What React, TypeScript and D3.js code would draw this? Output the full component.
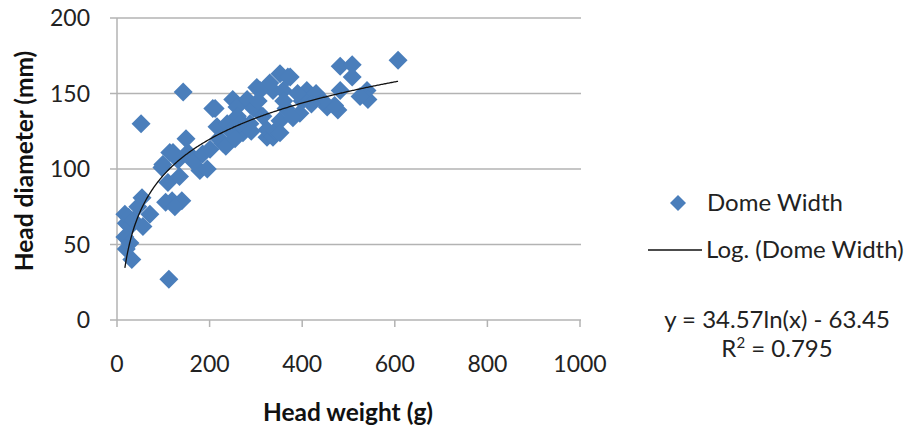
import React from "react";
import * as d3 from "d3";

const headWeight: number[] = [
  17, 20, 25, 28, 17, 28, 20, 32, 35, 54, 71, 56, 45, 52,
  97, 110, 119, 140, 112, 132, 114, 153, 179, 143, 149, 121, 99, 105, 125, 135, 165, 185, 195,
  207, 212, 201, 216, 229, 238, 250, 259, 272, 272, 281, 287, 302, 309, 324, 324, 337, 337, 341, 330,
  220, 245, 260, 265, 295, 315, 235, 255, 290, 305,
  352, 352, 369, 374, 359, 352, 410, 423, 395, 380, 482, 508, 508, 482, 454, 477, 540, 542, 525, 607,
  400, 390, 430, 365, 470, 445, 420, 360,
];
const domeWidth: number[] = [
  70, 64, 68, 62, 55, 51, 47, 40, 66, 81, 70, 62, 75, 130,
  101, 91, 79, 79, 27, 106, 111, 111, 99, 151, 120, 111, 103, 78, 75, 95, 105, 110, 100,
  140, 140, 113, 128, 117, 130, 146, 141, 130, 124, 146, 130, 154, 152, 121, 126, 121, 152, 125, 157,
  120, 125, 135, 130, 140, 135, 115, 120, 125, 145,
  163, 132, 161, 161, 152, 124, 152, 148, 137, 134, 168, 169, 161, 152, 141, 139, 152, 146, 148, 172,
  145, 150, 150, 140, 142, 145, 143, 145,
];
const xTicks: number[] = [0, 200, 400, 600, 800, 1000];
const yTicks: number[] = [0, 50, 100, 150, 200];
const trendA = 34.57;
const trendB = -63.45;
const trendRange: number[] = [17, 607];

const FONT = "Lato, 'Open Sans', sans-serif";
const BLUE = "#4a7ebb";
const GRID = "#b3b3b3";

export default function App() {
  const W = 911, H = 429;
  const x = d3.scaleLinear().domain([0, 1000]).range([117, 580]);
  const y = d3.scaleLinear().domain([0, 200]).range([320, 18]);
  const pts = headWeight.map((w, i) => ({ w, d: domeWidth[i] }));
  const trendPts = d3.range(trendRange[0], trendRange[1] + 0.5, 2).map((v) => [v, trendA * Math.log(v) + trendB]);
  const line = d3.line<number[]>().x((p) => x(p[0])).y((p) => y(p[1])).curve(d3.curveLinear);
  const diamond = (cx: number, cy: number, r: number) =>
    `M${cx},${cy - r}L${cx + r},${cy}L${cx},${cy + r}L${cx - r},${cy}Z`;
  const xEnd = 581;
  return (
    <svg width={W} height={H} style={{ position: "absolute", left: 0, top: 0, background: "#fff" }} fontFamily={FONT}>
      <rect x={0} y={0} width={W} height={H} fill="#fff" />
      {yTicks.map((t) => (
        <g key={"y" + t}>
          {t > 0 && <line x1={x(0)} x2={xEnd} y1={y(t)} y2={y(t)} stroke={GRID} strokeWidth={1.5} />}
          <line x1={x(0) - 7} x2={x(0)} y1={y(t)} y2={y(t)} stroke={GRID} strokeWidth={1.5} />
          <text x={90} y={y(t)} dy="0.36em" textAnchor="end" fontSize={23} fill="#222">{t}</text>
        </g>
      ))}
      <line x1={x(0)} x2={x(0)} y1={y(200)} y2={y(0)} stroke={GRID} strokeWidth={1.5} />
      <line x1={x(0)} x2={xEnd} y1={y(0)} y2={y(0)} stroke={GRID} strokeWidth={1.5} />
      {xTicks.map((t) => (
        <g key={"x" + t}>
          <line x1={x(t)} x2={x(t)} y1={y(0)} y2={y(0) + 7} stroke={GRID} strokeWidth={1.5} />
          <text x={x(t)} y={372} textAnchor="middle" fontSize={23} fill="#222">{t}</text>
        </g>
      ))}
      {pts.map((p, i) => (
        <path key={i} d={diamond(x(p.w), y(p.d), 9.5)} fill={BLUE} />
      ))}
      <path d={line(trendPts) || ""} fill="none" stroke="#111" strokeWidth={1.3} />
      <text x={348} y={421} textAnchor="middle" fontSize={24.5} fontWeight="bold" fill="#111">Head weight (g)</text>
      <text transform={`translate(33,${(y(0) + y(200)) / 2 - 8}) rotate(-90)`} textAnchor="middle" fontSize={24.5} fontWeight="bold" fill="#111">Head diameter (mm)</text>
      <path d={diamond(678, 203, 8)} fill={BLUE} />
      <text x={707} y={211} fontSize={24} fill="#222">Dome Width</text>
      <line x1={648} x2={702} y1={250} y2={250} stroke="#111" strokeWidth={1.3} />
      <text x={706} y={258} fontSize={24} fill="#222">Log. (Dome Width)</text>
      <text x={777} y={328} textAnchor="middle" fontSize={24} fill="#222">y = 34.57ln(x) - 63.45</text>
      <text x={777} y={357} textAnchor="middle" fontSize={24} fill="#222">
        R<tspan dy={-9} fontSize={15}>2</tspan><tspan dy={9}> = 0.795</tspan>
      </text>
    </svg>
  );
}
